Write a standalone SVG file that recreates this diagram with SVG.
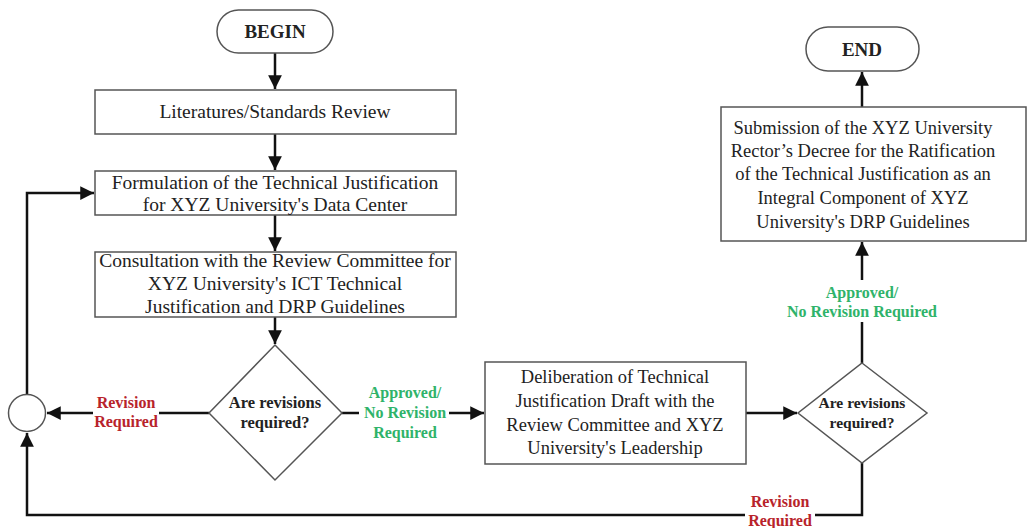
<svg xmlns="http://www.w3.org/2000/svg" width="1027" height="528" viewBox="0 0 1027 528">
<style>
.box{fill:#fff;stroke:#555;stroke-width:1.5}
.t{font-family:"Liberation Serif",serif;font-size:19.5px;fill:#222;text-anchor:middle}
.t2{font-family:"Liberation Serif",serif;font-size:18.5px;fill:#222;text-anchor:middle}
.b{font-family:"Liberation Serif",serif;font-size:19px;font-weight:bold;fill:#222;text-anchor:middle}
.q{font-family:"Liberation Serif",serif;font-size:16.5px;font-weight:bold;fill:#222;text-anchor:middle}
.q2{font-family:"Liberation Serif",serif;font-size:15.5px;font-weight:bold;fill:#222;text-anchor:middle}
.red{font-family:"Liberation Serif",serif;font-size:16px;font-weight:bold;fill:#b8232b;text-anchor:middle}
.grn{font-family:"Liberation Serif",serif;font-size:16px;font-weight:bold;fill:#2fb36a;text-anchor:middle}
.c{fill:none;stroke:#111;stroke-width:2.5}
</style>
<defs>
<marker id="ah" viewBox="0 0 10 10" refX="10" refY="5" markerWidth="5.5" markerHeight="5.5" orient="auto" markerUnits="strokeWidth">
<path d="M0,0 L10,5 L0,10 z" fill="#111"/>
</marker>
</defs>
<g id="connectors">
<path class="c" d="M275,53 V89" marker-end="url(#ah)"/>
<path class="c" d="M275,134 V170" marker-end="url(#ah)"/>
<path class="c" d="M275,215 V251" marker-end="url(#ah)"/>
<path class="c" d="M275,317 V344" marker-end="url(#ah)"/>
<path class="c" d="M209,413 H47" marker-end="url(#ah)"/>
<path class="c" d="M27,395 V193 H94" marker-end="url(#ah)"/>
<path class="c" d="M342,413 H484" marker-end="url(#ah)"/>
<path class="c" d="M746,413 H797" marker-end="url(#ah)"/>
<path class="c" d="M862,463 V515 H27 V433" marker-end="url(#ah)"/>
<path class="c" d="M862,363 V242" marker-end="url(#ah)"/>
<path class="c" d="M862,107 V72" marker-end="url(#ah)"/>
<rect x="93" y="393" width="66" height="40" fill="#fff"/>
<text class="red" x="126" y="408">Revision</text>
<text class="red" x="126" y="427">Required</text>
<rect x="359" y="382" width="90" height="60" fill="#fff"/>
<text class="grn" x="405" y="398">Approved/</text>
<text class="grn" x="405" y="418">No Revision</text>
<text class="grn" x="405" y="438">Required</text>
<rect x="745" y="492" width="70" height="36" fill="#fff"/>
<text class="red" x="780" y="507">Revision</text>
<text class="red" x="780" y="526">Required</text>
<rect x="800" y="280" width="124" height="42" fill="#fff"/>
<text class="grn" x="862" y="298">Approved/</text>
<text class="grn" x="862" y="317">No Revision Required</text>
</g>
<g id="begin">
<rect class="box" x="217" y="10" width="116" height="43" rx="21.5"/>
<text class="b" x="275" y="38">BEGIN</text>
</g>
<g id="literature">
<rect class="box" x="95" y="90" width="361" height="44"/>
<text class="t" x="275" y="118">Literatures/Standards Review</text>
</g>
<g id="formulation">
<rect class="box" x="95" y="171" width="361" height="44"/>
<text class="t" x="275" y="189">Formulation of the Technical Justification</text>
<text class="t" x="275" y="211">for XYZ University's Data Center</text>
</g>
<g id="consultation">
<rect class="box" x="95" y="252" width="361" height="65"/>
<text class="t" x="275" y="267">Consultation with the Review Committee for</text>
<text class="t" x="275" y="290">XYZ University's ICT Technical</text>
<text class="t" x="275" y="313">Justification and DRP Guidelines</text>
</g>
<g id="decision1">
<polygon class="box" points="275,345 342,413 275,480 209,413"/>
<text class="q" x="275" y="408">Are revisions</text>
<text class="q" x="275" y="428">required?</text>
</g>
<g id="merge">
<circle class="box" cx="27" cy="413" r="18.5"/>
</g>
<g id="deliberation">
<rect class="box" x="485" y="362" width="261" height="102"/>
<text class="t2" x="615" y="383">Deliberation of Technical</text>
<text class="t2" x="615" y="407">Justification Draft with the</text>
<text class="t2" x="615" y="431">Review Committee and XYZ</text>
<text class="t2" x="615" y="454">University's Leadership</text>
</g>
<g id="decision2">
<polygon class="box" points="862,363 927,413 862,463 798,413"/>
<text class="q2" x="862" y="408">Are revisions</text>
<text class="q2" x="862" y="428">required?</text>
</g>
<g id="submission">
<rect class="box" x="721" y="107" width="305" height="134"/>
<text class="t2" x="863" y="134">Submission of the XYZ University</text>
<text class="t2" x="863" y="157">Rector’s Decree for the Ratification</text>
<text class="t2" x="863" y="180">of the Technical Justification as an</text>
<text class="t2" x="863" y="204">Integral Component of XYZ</text>
<text class="t2" x="863" y="228">University's DRP Guidelines</text>
</g>
<g id="end">
<rect class="box" x="806" y="27" width="113" height="44" rx="22"/>
<text class="b" x="862" y="56">END</text>
</g>
</svg>
